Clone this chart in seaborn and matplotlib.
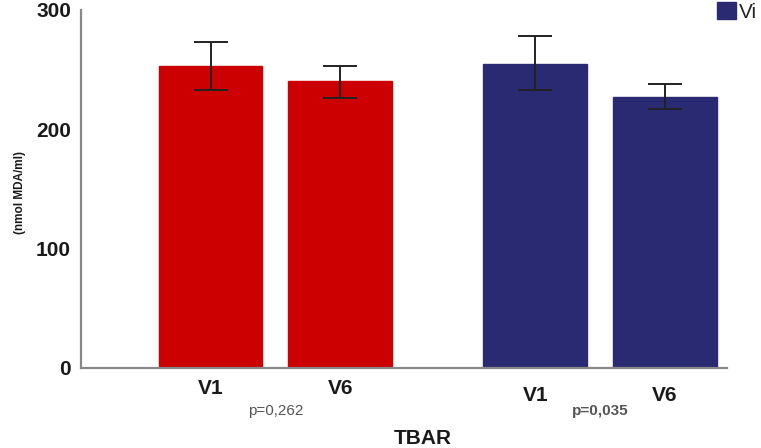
import numpy as np
import pandas as pd
import matplotlib
matplotlib.use("Agg")
import matplotlib.pyplot as plt
import matplotlib.transforms as mtransforms
from matplotlib.patches import Patch
import seaborn as sns

# ---------------- DATA ----------------
groups = ["Placebo", "Vitamina"]
visits = ["V1", "V6"]
means = [253, 240, 255, 227]          # order: Placebo V1, Placebo V6, Vitamina V1, Vitamina V6
err_low = [233, 226, 233, 217]
err_high = [273, 253, 278, 238]
p_values = ["p=0,262", "p=0,035"]
group_colors = ["#CC0000", "#2A2A72"]
legend_label = "Vi"

df = pd.DataFrame({
    "grupo": [g for g in groups for _ in visits],
    "visita": visits * len(groups),
    "tbar": means,
})

# ---------------- PLOT ----------------
sns.set_style("white")
plt.rcParams["font.family"] = ["Liberation Sans", "DejaVu Sans"]

fig = plt.figure(figsize=(7.61, 4.48), dpi=100)
ax = fig.add_axes([0.106, 0.179, 0.849, 0.799])

sns.barplot(data=df, x="grupo", y="tbar", hue="visita", order=groups,
            hue_order=visits, width=0.8, gap=0.2, errorbar=None,
            legend=False, ax=ax)

# recolour by group (patches come hue-major)
bars = sorted(ax.patches, key=lambda p: p.get_x())
for i, b in enumerate(bars):
    b.set_facecolor(group_colors[i // 2])
    b.set_edgecolor(group_colors[i // 2])

centers = [b.get_x() + b.get_width() / 2 for b in bars]
m = np.array(means)
yerr = np.array([m - np.array(err_low), np.array(err_high) - m])
ax.errorbar(centers, m, yerr=yerr, fmt="none", ecolor="#222222",
            elinewidth=1.4, capsize=12, capthick=1.4)

ax.set_ylim(0, 300)
ax.set_xlim(-0.6, 1.39)
ax.set_yticks([0, 100, 200, 300])
ax.set_xticks(centers)
ax.set_xticklabels(visits * len(groups))
ax.tick_params(axis="both", direction="out", length=6, width=1.4,
               color="#888888", labelsize=15, labelcolor="#1a1a1a")
ax.tick_params(axis="x", pad=2)
ax.tick_params(axis="y", pad=1)
for lab in ax.get_yticklabels() + ax.get_xticklabels():
    lab.set_fontweight("bold")
# second group labels sit a bit lower
for lab in ax.get_xticklabels()[2:]:
    lab.set_transform(lab.get_transform() +
                      mtransforms.ScaledTranslation(0, -7 / 100, fig.dpi_scale_trans))

for side in ["top", "right"]:
    ax.spines[side].set_visible(False)
for side in ["left", "bottom"]:
    ax.spines[side].set_color("#888888")
    ax.spines[side].set_linewidth(1.6)

ax.set_ylabel("(nmol MDA/ml)", fontsize=8.5, fontweight="bold", color="#1a1a1a")
ax.yaxis.set_label_coords(-0.085, 0.49)
ax.set_xlabel("TBAR", fontsize=15, fontweight="bold", color="#1a1a1a")
ax.xaxis.set_label_coords(0.53, -0.17)

trans = mtransforms.blended_transform_factory(ax.transData, ax.transAxes)
for gi, txt in enumerate(p_values):
    x = (centers[2 * gi] + centers[2 * gi + 1]) / 2
    ax.text(x, -0.12, txt, transform=trans, ha="center", va="center",
            fontsize=11, color="#555555",
            fontweight="bold" if gi == 1 else "normal")

# legend in the top right corner, as in the original
fig.legend(handles=[Patch(facecolor=group_colors[1], edgecolor=group_colors[1])],
           labels=[legend_label], loc="upper left",
           bbox_to_anchor=(0.94, 1.0), frameon=False, fontsize=15,
           handlelength=0.9, handleheight=0.9, handletextpad=0.15,
           borderaxespad=0, borderpad=0.1)

fig.savefig("out.png", dpi=100)
